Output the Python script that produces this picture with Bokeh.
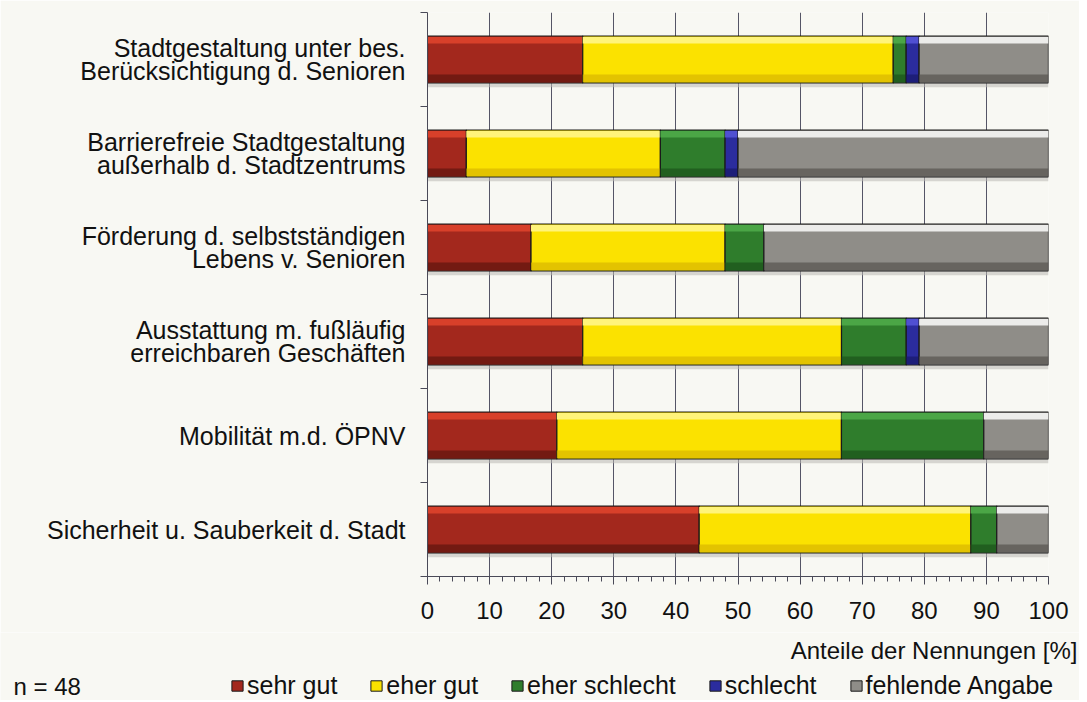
from bokeh.plotting import figure
from bokeh.layouts import column
from bokeh.models import Range1d, FixedTicker, Legend, LegendItem, Label, ColumnDataSource
from bokeh.transform import dodge
from bokeh.embed import file_html
from bokeh.resources import INLINE

# ---- data (shares in %, n = 48) ----
categories = [
    "Stadtgestaltung unter bes.\nBerücksichtigung d. Senioren",
    "Barrierefreie Stadtgestaltung\naußerhalb d. Stadtzentrums",
    "Förderung d. selbstständigen\nLebens v. Senioren",
    "Ausstattung m. fußläufig\nerreichbaren Geschäften",
    "Mobilität m.d. ÖPNV",
    "Sicherheit u. Sauberkeit d. Stadt",
]
series = ["sehr gut", "eher gut", "eher schlecht", "schlecht", "fehlende Angabe"]
sehr_gut = [25.0, 6.25, 16.67, 25.0, 20.83, 43.75]
eher_gut = [50.0, 31.25, 31.25, 41.67, 45.83, 43.75]
eher_schlecht = [2.08, 10.42, 6.25, 10.42, 22.92, 4.17]
schlecht = [2.08, 2.08, 0.0, 2.08, 0.0, 0.0]
fehlende_angabe = [20.83, 50.0, 45.83, 20.83, 10.42, 8.33]
x_ticks = [0, 10, 20, 30, 40, 50, 60, 70, 80, 90, 100]
sample_note = "n = 48"
x_title = "Anteile der Nennungen [%]"

values = [sehr_gut, eher_gut, eher_schlecht, schlecht, fehlende_angabe]
base_col = ["#a3281d", "#fbe200", "#2f7d2c", "#2b2c9e", "#8f8d88"]
light_col = ["#d8402a", "#fff47a", "#4ba646", "#5050d2", "#ececea"]
dark_col = ["#5e140e", "#d8b600", "#1b521a", "#18186a", "#55534f"]

FONT = "Liberation Sans"
BG = "#f8f8f3"
W = 1079
n = len(categories)
ys = [n - 0.5 - i for i in range(n)]

p = figure(width=W, height=632, output_backend="svg", toolbar_location=None,
           x_range=Range1d(0, 100), y_range=Range1d(0, n),
           min_border_left=427, min_border_right=W - 1048, min_border_top=12, min_border_bottom=56)
p.frame_align = False
p.background_fill_color = BG
p.border_fill_color = BG
p.outline_line_color = None

# soft shadow beneath each bar
shadow = ColumnDataSource(dict(y=ys, left=[0] * n, right=[100] * n))
p.hbar(y=dodge("y", -0.045, range=p.y_range), height=0.5, left="left", right="right",
       source=shadow, fill_color="#b9b8b2", fill_alpha=0.55, line_color=None)

cum = [0.0] * n
for k, name in enumerate(series):
    vals = values[k]
    yy, lf, rt = [], [], []
    for i in range(n):
        if vals[i] > 0:
            yy.append(ys[i]); lf.append(cum[i]); rt.append(cum[i] + vals[i])
        cum[i] += vals[i]
    src = ColumnDataSource(dict(y=yy, left=lf, right=rt))
    p.hbar(y="y", height=0.5, left="left", right="right", source=src,
           fill_color=base_col[k], line_color="#1a1a1a", line_width=1.2)
    # bevel: top highlight and bottom shade
    p.hbar(y=dodge("y", 0.205, range=p.y_range), height=0.07, left="left", right="right",
           source=src, fill_color=light_col[k], line_color=None)
    p.hbar(y=dodge("y", -0.2, range=p.y_range), height=0.08, left="left", right="right",
           source=src, fill_color=dark_col[k], line_color=None, fill_alpha=0.7)

# x axis
p.xaxis.ticker = FixedTicker(ticks=x_ticks, minor_ticks=list(range(0, 101, 2)))
p.xaxis.major_tick_out = 8
p.xaxis.major_tick_in = 0
p.xaxis.minor_tick_out = 5
p.xaxis.minor_tick_in = 0
p.xaxis.axis_line_color = "#4a4a58"
p.xaxis.major_tick_line_color = "#4a4a58"
p.xaxis.minor_tick_line_color = "#4a4a58"
p.xaxis.major_label_text_font = FONT
p.xaxis.major_label_text_font_size = "24px"
p.xaxis.major_label_text_color = "#111111"
p.xaxis.major_label_standoff = 17

# y axis: labels at centres, ticks at boundaries
p.yaxis.ticker = FixedTicker(ticks=ys, minor_ticks=list(range(0, n + 1)))
p.yaxis.major_label_overrides = {y: c for y, c in zip(ys, categories)}
p.yaxis.major_tick_out = 0
p.yaxis.major_tick_in = 0
p.yaxis.minor_tick_out = 7
p.yaxis.minor_tick_in = 0
p.yaxis.axis_line_color = "#4a4a58"
p.yaxis.minor_tick_line_color = "#4a4a58"
p.yaxis.major_label_text_font = FONT
p.yaxis.major_label_text_font_size = "25px"
p.yaxis.major_label_text_line_height = 0.85
p.yaxis.major_label_text_color = "#111111"
p.yaxis.major_label_standoff = 15

p.xgrid.grid_line_color = "#555566"
p.xgrid.grid_line_width = 1
p.ygrid.grid_line_color = None

# ---- footer: axis title, sample size, legend ----
p2 = figure(width=W, height=68, output_backend="svg", toolbar_location=None,
            x_range=Range1d(0, W), y_range=Range1d(0, 68),
            x_axis_type=None, y_axis_type=None, min_border=0)
p2.frame_align = False
p2.background_fill_color = BG
p2.border_fill_color = BG
p2.outline_line_color = None
p2.grid.visible = False

p2.add_layout(Label(x=W - 2, y=50, text=x_title, text_align="right",
                    text_baseline="middle", text_font=FONT, text_font_size="24px",
                    text_color="#111111"))
p2.add_layout(Label(x=13, y=14, text=sample_note, text_align="left",
                    text_baseline="middle", text_font=FONT, text_font_size="24px",
                    text_color="#111111"))

# legend proxies (kept off-view; only their swatches are shown in the legend)
proxy = ColumnDataSource(dict(y=[-1000], left=[-1000], right=[-999]))
items = []
for k, name in enumerate(series):
    r = p2.hbar(y="y", height=1, left="left", right="right", source=proxy,
                fill_color=base_col[k], line_color="#1a1a1a", line_width=1)
    items.append(LegendItem(label=name, renderers=[r]))

legend = Legend(items=items, orientation="horizontal", location=(230, 0),
                glyph_width=14, glyph_height=13, label_standoff=3, spacing=32,
                padding=0, margin=0, border_line_color=None, background_fill_alpha=0,
                label_text_font=FONT, label_text_font_size="25px", label_text_color="#111111")
p2.add_layout(legend, "center")

open("out.html", "w").write(file_html(column(p, p2, spacing=0), INLINE))
